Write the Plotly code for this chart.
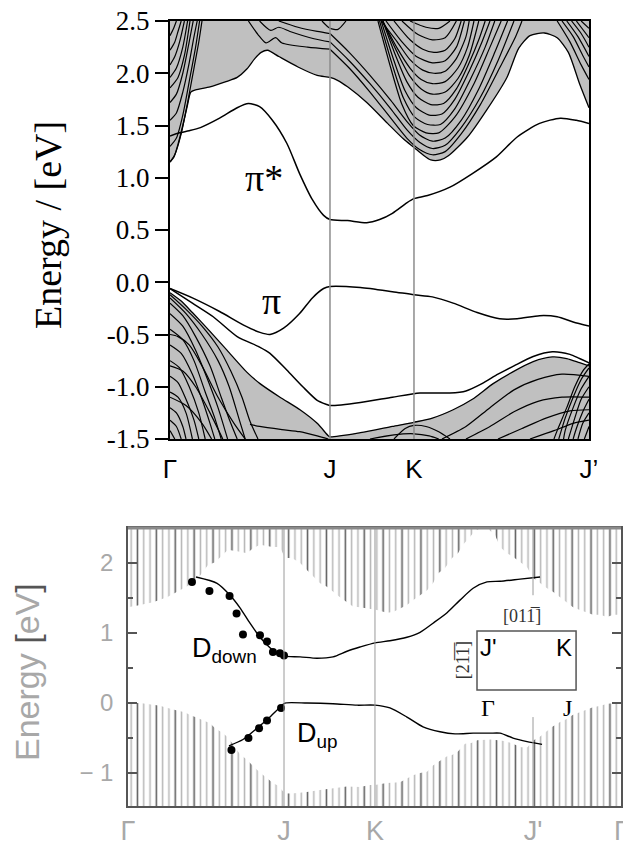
import plotly.graph_objects as go

W, H = 623, 845

# ---------------- upper panel: slab band structure ----------------
TOP_K_POINTS = [0.0, 1.0, 1.525, 2.619]
TOP_K_LABELS = ["Γ", "J", "K", "J’"]
TOP_E_TICKS = [2.5, 2.0, 1.5, 1.0, 0.5, 0.0, -0.5, -1.0, -1.5]
TOP_E_TICK_TEXT = ["2.5", "2.0", "1.5", "1.0", "0.5", "0.0", "-0.5", "-1.0", "-1.5"]
TOP_E_RANGE = [-1.5, 2.5]

# lower edge of the projected conduction continuum (shaded above)
CB_EDGE_K = [0.0, 0.025, 0.05, 0.08, 0.11, 0.13, 0.16, 0.25, 0.35, 0.42, 0.48, 0.53, 0.57, 0.61,
             0.68, 0.8, 0.92, 1.0, 1.05, 1.11, 1.23, 1.36, 1.46, 1.525, 1.58, 1.63, 1.69, 1.74,
             1.86, 1.98, 2.106, 2.18, 2.25, 2.34, 2.42, 2.49, 2.56, 2.619]
CB_EDGE_E = [1.15, 1.2, 1.32, 1.5, 1.7, 1.82, 1.84, 1.87, 1.92, 1.96, 2.04, 2.14, 2.2, 2.22,
             2.16, 2.06, 1.98, 1.96, 1.93, 1.87, 1.72, 1.52, 1.37, 1.29, 1.22, 1.17, 1.17, 1.21,
             1.39, 1.65, 1.96, 2.24, 2.36, 2.385, 2.34, 2.2, 1.9, 1.67]

# upper edge of the projected valence continuum (shaded below)
VB_EDGE_K = [0.0, 0.07, 0.14, 0.25, 0.356, 0.48, 0.5625, 0.6875, 0.8125, 0.92, 0.99, 1.0,
             1.19, 1.39, 1.525, 1.64, 1.77, 1.89, 2.02, 2.14, 2.27, 2.39, 2.48, 2.56, 2.619]
VB_EDGE_E = [-0.1, -0.18, -0.29, -0.47, -0.65, -0.86, -0.97, -1.1, -1.22, -1.35, -1.47, -1.48,
             -1.44, -1.38, -1.34, -1.3, -1.22, -1.12, -0.97, -0.86, -0.76, -0.715, -0.73, -0.77, -0.8]

# surface states
PI_STAR_K = [0.0, 0.06, 0.12, 0.19, 0.31, 0.42, 0.49, 0.56, 0.64, 0.73, 0.81, 0.89, 0.96, 1.0,
             1.11, 1.23, 1.31, 1.39, 1.48, 1.525, 1.61, 1.75, 1.89, 2.04, 2.17, 2.31, 2.44, 2.54, 2.619]
PI_STAR_E = [1.40, 1.43, 1.45, 1.48, 1.57, 1.67, 1.71, 1.68, 1.55, 1.33, 1.04, 0.79, 0.64, 0.6,
             0.59, 0.57, 0.6, 0.66, 0.76, 0.8, 0.83, 0.91, 1.04, 1.2, 1.39, 1.52, 1.57, 1.55, 1.52]
PI_K = [0.0, 0.14, 0.31, 0.46, 0.5625, 0.625, 0.71, 0.81, 0.89, 0.96, 1.0, 1.19, 1.39, 1.525,
        1.64, 1.77, 1.92, 2.06, 2.17, 2.31, 2.42, 2.52, 2.619]
PI_E = [-0.06, -0.15, -0.28, -0.41, -0.48, -0.5, -0.44, -0.3, -0.15, -0.06, -0.04, -0.05, -0.09,
        -0.12, -0.14, -0.2, -0.29, -0.35, -0.35, -0.32, -0.33, -0.38, -0.42]
BACK_K = [0.0, 0.14, 0.27, 0.42, 0.56, 0.625, 0.73, 0.83, 0.92, 0.98, 1.0, 1.19, 1.39, 1.5625,
          1.75, 1.85, 1.95, 2.05, 2.15, 2.27, 2.39, 2.5, 2.56, 2.619]
BACK_E = [-0.06, -0.2, -0.33, -0.52, -0.62, -0.68, -0.84, -1.0, -1.13, -1.17, -1.18, -1.15, -1.1,
          -1.06, -1.06, -1.04, -0.97, -0.88, -0.8, -0.71, -0.665, -0.69, -0.73, -0.77]

# bulk-derived slab bands inside the conduction continuum
CB_LINES = [
    [[0, 1.15], [0.03, 1.22], [0.07, 1.42], [0.11, 1.72], [0.15, 2.05], [0.18, 2.3], [0.2, 2.5]],
    [[0, 1.3], [0.04, 1.38], [0.08, 1.6], [0.12, 1.92], [0.16, 2.25], [0.185, 2.5]],
    [[0, 1.55], [0.04, 1.62], [0.08, 1.82], [0.12, 2.1], [0.15, 2.35], [0.17, 2.5]],
    [[0, 1.72], [0.04, 1.8], [0.08, 2.0], [0.12, 2.3], [0.145, 2.5]],
    [[0, 1.86], [0.05, 1.96], [0.09, 2.17], [0.125, 2.5]],
    [[0, 1.96], [0.04, 2.05], [0.08, 2.25], [0.11, 2.5]],
    [[0, 2.08], [0.03, 2.16], [0.06, 2.3], [0.09, 2.5]],
    [[0, 2.22], [0.03, 2.3], [0.05, 2.4], [0.07, 2.5]],
    [[0, 2.36], [0.02, 2.42], [0.04, 2.5]],
    [[0.49, 2.5], [0.55, 2.37], [0.6, 2.29], [0.66, 2.34], [0.7, 2.29], [0.86, 2.25], [1.0, 2.23]],
    [[0.56, 2.5], [0.63, 2.41], [0.68, 2.44], [0.75, 2.4], [0.9, 2.33], [1.0, 2.3]],
    [[0.68, 2.5], [0.8, 2.44], [0.92, 2.4], [1.0, 2.38]],
    [[0.95, 2.5], [1.0, 2.43], [1.05, 2.42], [1.1, 2.5]],
    [[1.0, 2.23], [1.12, 2.05], [1.25, 1.82], [1.38, 1.57], [1.48, 1.38], [1.56, 1.27], [1.64, 1.22],
     [1.72, 1.25], [1.82, 1.42], [1.94, 1.7], [2.06, 2.05], [2.16, 2.35], [2.2, 2.5]],
    [[1.0, 2.3], [1.12, 2.12], [1.25, 1.9], [1.38, 1.66], [1.48, 1.46], [1.56, 1.34], [1.64, 1.28],
     [1.72, 1.31], [1.82, 1.48], [1.94, 1.77], [2.05, 2.12], [2.15, 2.5]],
    [[1.0, 2.38], [1.12, 2.2], [1.25, 1.98], [1.38, 1.74], [1.48, 1.54], [1.56, 1.41], [1.64, 1.35],
     [1.72, 1.38], [1.82, 1.55], [1.93, 1.85], [2.03, 2.2], [2.11, 2.5]],
    [[1.3, 2.5], [1.38, 2.05], [1.45, 1.7], [1.52, 1.5], [1.6, 1.43], [1.68, 1.43], [1.78, 1.58],
     [1.9, 1.9], [2.0, 2.25], [2.07, 2.5]],
    [[1.31, 2.5], [1.39, 2.08], [1.46, 1.76], [1.53, 1.58], [1.61, 1.51], [1.69, 1.51], [1.78, 1.66],
     [1.88, 1.95], [1.97, 2.25], [2.03, 2.5]],
    [[1.32, 2.5], [1.4, 2.12], [1.47, 1.83], [1.54, 1.67], [1.62, 1.6], [1.7, 1.61], [1.78, 1.75],
     [1.87, 2.02], [1.95, 2.3], [2.0, 2.5]],
    [[1.33, 2.5], [1.41, 2.17], [1.48, 1.92], [1.55, 1.77], [1.63, 1.7], [1.71, 1.71], [1.79, 1.85],
     [1.87, 2.1], [1.93, 2.32], [1.97, 2.5]],
    [[1.33, 2.5], [1.42, 2.2], [1.5, 1.97], [1.57, 1.85], [1.64, 1.8], [1.72, 1.82], [1.8, 1.95],
     [1.87, 2.17], [1.93, 2.5]],
    [[1.33, 2.5], [1.42, 2.24], [1.5, 2.05], [1.57, 1.94], [1.64, 1.9], [1.72, 1.92], [1.8, 2.05],
     [1.86, 2.25], [1.9, 2.5]],
    [[1.32, 2.5], [1.42, 2.3], [1.5, 2.13], [1.58, 2.03], [1.65, 2.0], [1.72, 2.02], [1.79, 2.14],
     [1.85, 2.35], [1.87, 2.5]],
    [[1.35, 2.5], [1.45, 2.3], [1.54, 2.16], [1.64, 2.1], [1.72, 2.12], [1.79, 2.25], [1.84, 2.5]],
    [[1.4, 2.5], [1.5, 2.32], [1.58, 2.23], [1.65, 2.2], [1.72, 2.22], [1.78, 2.33], [1.82, 2.5]],
    [[1.45, 2.5], [1.55, 2.37], [1.64, 2.32], [1.72, 2.34], [1.79, 2.5]],
    [[1.5, 2.5], [1.6, 2.44], [1.68, 2.43], [1.75, 2.5]],
    [[2.42, 2.5], [2.5, 2.3], [2.57, 2.08], [2.619, 1.94]],
    [[2.45, 2.5], [2.52, 2.35], [2.58, 2.17], [2.619, 2.06]],
    [[2.48, 2.5], [2.55, 2.35], [2.619, 2.16]],
    [[2.51, 2.5], [2.57, 2.38], [2.619, 2.25]],
    [[2.54, 2.5], [2.619, 2.34]],
    [[2.57, 2.5], [2.619, 2.43]],
]

# bulk-derived slab bands inside the valence continuum
VB_LINES = [
    [[0, -0.12], [0.1, -0.26], [0.2, -0.42], [0.3, -0.62], [0.38, -0.85], [0.45, -1.1], [0.5, -1.33], [0.55, -1.5]],
    [[0, -0.15], [0.1, -0.3], [0.2, -0.5], [0.3, -0.75], [0.37, -1.0], [0.43, -1.3], [0.47, -1.5]],
    [[0, -0.2], [0.08, -0.32], [0.16, -0.52], [0.25, -0.8], [0.32, -1.1], [0.38, -1.35], [0.42, -1.5]],
    [[0, -0.3], [0.08, -0.42], [0.16, -0.65], [0.24, -0.95], [0.3, -1.2], [0.36, -1.5]],
    [[0, -0.45], [0.08, -0.55], [0.15, -0.75], [0.22, -1.05], [0.28, -1.3], [0.32, -1.5]],
    [[0, -0.6], [0.07, -0.68], [0.14, -0.88], [0.2, -1.12], [0.25, -1.35], [0.28, -1.5]],
    [[0, -0.75], [0.06, -0.82], [0.12, -1.0], [0.18, -1.25], [0.22, -1.5]],
    [[0, -0.9], [0.05, -0.96], [0.1, -1.12], [0.15, -1.32], [0.18, -1.5]],
    [[0, -1.05], [0.05, -1.1], [0.1, -1.25], [0.14, -1.5]],
    [[0, -1.2], [0.04, -1.25], [0.08, -1.38], [0.1, -1.5]],
    [[0, -1.32], [0.04, -1.38], [0.07, -1.5]],
    [[0, -1.42], [0.03, -1.5]],
    [[0, -0.5], [0.05, -0.52], [0.12, -0.6], [0.2, -0.8], [0.3, -1.1], [0.4, -1.35], [0.47, -1.5]],
    [[0, -0.8], [0.08, -0.85], [0.16, -1.0], [0.25, -1.25], [0.33, -1.5]],
    [[0, -1.1], [0.1, -1.18], [0.2, -1.35], [0.26, -1.5]],
    [[0.5, -1.36], [0.56, -1.38], [0.7, -1.41], [0.81, -1.43], [0.92, -1.47], [0.99, -1.5]],
    [[1.4, -1.5], [1.47, -1.4], [1.525, -1.37], [1.6, -1.38], [1.68, -1.43], [1.75, -1.5]],
    [[1.25, -1.5], [1.4, -1.46], [1.525, -1.45], [1.62, -1.47], [1.68, -1.5]],
    [[1.7, -1.5], [1.85, -1.38], [2.0, -1.2], [2.15, -1.03], [2.3, -0.93], [2.45, -0.88], [2.619, -0.9]],
    [[1.85, -1.5], [2.0, -1.38], [2.15, -1.24], [2.3, -1.14], [2.45, -1.1], [2.619, -1.1]],
    [[2.05, -1.5], [2.2, -1.4], [2.35, -1.3], [2.5, -1.23], [2.619, -1.22]],
    [[2.25, -1.5], [2.4, -1.42], [2.52, -1.35], [2.619, -1.32]],
    [[2.619, -0.78], [2.58, -0.85], [2.53, -1.0], [2.48, -1.2], [2.42, -1.42], [2.4, -1.5]],
    [[2.619, -0.82], [2.57, -0.93], [2.52, -1.1], [2.47, -1.3], [2.43, -1.5]],
    [[2.619, -0.9], [2.57, -1.02], [2.52, -1.2], [2.47, -1.42], [2.46, -1.5]],
    [[2.619, -1.0], [2.57, -1.12], [2.53, -1.3], [2.49, -1.5]],
    [[2.619, -1.12], [2.58, -1.24], [2.54, -1.4], [2.52, -1.5]],
    [[2.619, -1.25], [2.58, -1.35], [2.55, -1.5]],
    [[2.619, -1.38], [2.59, -1.5]],
]

# ---------------- lower panel: model bands with ARPES points ----------------
BOT_K_POINTS = [0.0, 1.0, 1.583, 2.596, 3.16]
BOT_K_LABELS = ["Γ", "J", "K", "J'", "Γ"]
BOT_E_TICKS = [2, 1, 0, -1]
BOT_E_TICK_TEXT = ["2", "1", "0", "− 1"]
BOT_E_RANGE = [-1.47, 2.5]
BOT_K_RANGE = [0.0, 3.16]

# projected bulk bands: lower edge of the upper block, upper edge of the lower block
BULK_UP_K = [0.0, 0.077, 0.16, 0.25, 0.32, 0.397, 0.442, 0.513, 0.558, 0.603, 0.641, 0.718, 0.763,
             0.801, 0.846, 0.929, 0.974, 1.006, 1.051, 1.103, 1.147, 1.186, 1.231, 1.276, 1.314,
             1.359, 1.404, 1.442, 1.487, 1.551, 1.596, 1.66, 1.699, 1.744, 1.788, 1.827, 1.872,
             1.917, 1.955, 1.987, 2.032, 2.077, 2.115, 2.147, 2.192, 2.23, 2.3, 2.33, 2.353, 2.385,
             2.429, 2.468, 2.513, 2.558, 2.596, 2.641, 2.686, 2.724, 2.769, 2.814, 2.853, 2.897,
             2.942, 2.981, 3.026, 3.071, 3.109, 3.16]
BULK_UP_E = [1.37, 1.40, 1.44, 1.51, 1.59, 1.69, 1.76, 1.97, 2.01, 2.11, 2.19, 2.16, 2.14,
             2.21, 2.26, 2.23, 2.23, 2.07, 2.07, 2.0, 1.9, 1.8, 1.71, 1.66, 1.59,
             1.51, 1.44, 1.38, 1.37, 1.35, 1.33, 1.29, 1.3, 1.35, 1.4, 1.47, 1.54,
             1.61, 1.71, 1.85, 1.93, 2.07, 2.14, 2.26, 2.37, 2.48, 2.5, 2.45, 2.4, 2.23,
             2.14, 2.09, 2.01, 1.94, 1.79, 1.71, 1.64, 1.59, 1.51, 1.43, 1.37, 1.33,
             1.29, 1.26, 1.26, 1.23, 1.26, 1.26]
BULK_LO_K = [0.0, 0.077, 0.12, 0.16, 0.205, 0.237, 0.282, 0.32, 0.365, 0.397, 0.442, 0.481, 0.526,
             0.558, 0.603, 0.641, 0.686, 0.718, 0.763, 0.801, 0.846, 0.891, 0.929, 0.962, 1.006,
             1.051, 1.103, 1.147, 1.231, 1.314, 1.404, 1.487, 1.551, 1.583, 1.66, 1.744, 1.788,
             1.827, 1.872, 1.917, 1.955, 2.0, 2.045, 2.077, 2.115, 2.16, 2.2, 2.24, 2.285, 2.33,
             2.37, 2.41, 2.455, 2.49, 2.52, 2.56, 2.6, 2.64, 2.68, 2.72, 2.77, 2.81, 2.85, 2.9,
             2.94, 2.98, 3.03, 3.07, 3.16]
BULK_LO_E = [0.0, 0.0, -0.01, -0.03, -0.04, -0.06, -0.09, -0.11, -0.13, -0.17, -0.21, -0.25, -0.29,
             -0.36, -0.42, -0.49, -0.64, -0.73, -0.81, -0.9, -0.99, -1.07, -1.14, -1.18, -1.29,
             -1.29, -1.28, -1.27, -1.24, -1.22, -1.19, -1.2, -1.17, -1.17, -1.14, -1.13, -1.08,
             -1.03, -1.0, -0.98, -0.89, -0.82, -0.76, -0.74, -0.69, -0.58, -0.57, -0.53, -0.52, -0.52,
             -0.53, -0.54, -0.57, -0.6, -0.63, -0.63, -0.53, -0.48, -0.41, -0.34, -0.27, -0.23, -0.17, -0.13,
             -0.09, -0.06, -0.04, -0.01, 0.0]

D_DOWN_K = [0.436, 0.571, 0.654, 0.718, 0.782, 0.846, 0.91, 0.955, 1.0, 1.103, 1.212, 1.314, 1.404,
            1.487, 1.583, 1.679, 1.788, 1.872, 1.955, 2.045, 2.128, 2.212, 2.301, 2.385, 2.513, 2.641]
D_DOWN_E = [1.8, 1.71, 1.54, 1.36, 1.14, 0.94, 0.79, 0.71, 0.67, 0.66, 0.64, 0.66, 0.74,
            0.8, 0.86, 0.89, 0.94, 1.01, 1.14, 1.29, 1.47, 1.64, 1.73, 1.74, 1.77, 1.8]
D_UP_K = [0.647, 0.737, 0.827, 0.91, 0.974, 1.006, 1.147, 1.314, 1.468, 1.583, 1.679, 1.788, 1.891,
          2.0, 2.096, 2.212, 2.32, 2.385, 2.468, 2.558, 2.654]
D_UP_E = [-0.61, -0.52, -0.36, -0.2, -0.06, 0.0, 0.0, -0.01, -0.03, -0.03, -0.07, -0.2, -0.34,
          -0.41, -0.44, -0.43, -0.43, -0.43, -0.5, -0.55, -0.59]

# measured points
EXP_DOWN_K = [0.41, 0.522, 0.651, 0.696, 0.737, 0.846, 0.891, 0.929, 0.974, 1.0]
EXP_DOWN_E = [1.73, 1.6, 1.53, 1.28, 0.98, 0.97, 0.88, 0.73, 0.71, 0.68]
EXP_UP_K = [0.663, 0.772, 0.84, 0.891, 0.981]
EXP_UP_E = [-0.67, -0.5, -0.36, -0.25, -0.07]

# surface Brillouin zone sketch (lower panel data units)
SBZ_K = [2.237, 2.872]
SBZ_E = [0.186, 1.03]

SERIF = "Liberation Serif"
SANS = "Liberation Sans"
GREY_TXT = "#a8a8a8"

fig = go.Figure()


def add_line(pts, xa, ya, width=1.3, color="black"):
    fig.add_trace(go.Scatter(
        x=[p[0] for p in pts], y=[p[1] for p in pts], mode="lines",
        line=dict(color=color, width=width, shape="spline", smoothing=0.7),
        xaxis=xa, yaxis=ya, hoverinfo="skip", showlegend=False))


# shaded continua in the upper panel
kmax = TOP_K_POINTS[-1]
fig.add_trace(go.Scatter(
    x=[0.0] + CB_EDGE_K + [kmax, 0.0], y=[TOP_E_RANGE[1]] + CB_EDGE_E + [TOP_E_RANGE[1]] * 2,
    fill="toself", fillcolor="#c0c0c0", line=dict(width=0), mode="lines",
    xaxis="x", yaxis="y", hoverinfo="skip", showlegend=False))
fig.add_trace(go.Scatter(
    x=[0.0] + VB_EDGE_K + [kmax, 0.0], y=[TOP_E_RANGE[0]] + VB_EDGE_E + [TOP_E_RANGE[0]] * 2,
    fill="toself", fillcolor="#c0c0c0", line=dict(width=0), mode="lines",
    xaxis="x", yaxis="y", hoverinfo="skip", showlegend=False))

for band in CB_LINES + VB_LINES:
    add_line(band, "x", "y", width=1.2)
add_line(list(zip(CB_EDGE_K, CB_EDGE_E)), "x", "y", width=1.3)
add_line(list(zip(VB_EDGE_K, VB_EDGE_E)), "x", "y", width=1.3)
for ks, es in [(PI_STAR_K, PI_STAR_E), (PI_K, PI_E), (BACK_K, BACK_E)]:
    add_line(list(zip(ks, es)), "x", "y", width=1.5)

# hatched bulk projection in the lower panel (grey hatch with every third stroke dark)
kb = BOT_K_RANGE[1]
for pat_size, pat_col, sol in [(6.3, "#6e6e6e", 0.24), (18.9, "#111111", 0.08)]:
    fig.add_trace(go.Scatter(
        x=[0.0] + BULK_UP_K + [kb, 0.0], y=[BOT_E_RANGE[1]] + BULK_UP_E + [BOT_E_RANGE[1]] * 2,
        fill="toself", fillcolor="rgba(0,0,0,0)", line=dict(width=0), mode="lines",
        fillpattern=dict(shape="|", size=pat_size, solidity=sol, fgcolor=pat_col,
                         bgcolor="rgba(0,0,0,0)", fillmode="overlay"),
        xaxis="x2", yaxis="y2", hoverinfo="skip", showlegend=False))
    fig.add_trace(go.Scatter(
        x=[0.0] + BULK_LO_K + [kb, 0.0], y=[BOT_E_RANGE[0]] + BULK_LO_E + [BOT_E_RANGE[0]] * 2,
        fill="toself", fillcolor="rgba(0,0,0,0)", line=dict(width=0), mode="lines",
        fillpattern=dict(shape="|", size=pat_size, solidity=sol, fgcolor=pat_col,
                         bgcolor="rgba(0,0,0,0)", fillmode="overlay"),
        xaxis="x2", yaxis="y2", hoverinfo="skip", showlegend=False))

add_line(list(zip(D_DOWN_K, D_DOWN_E)), "x2", "y2", width=1.4)
add_line(list(zip(D_UP_K, D_UP_E)), "x2", "y2", width=1.4)
for ks, es in [(EXP_DOWN_K, EXP_DOWN_E), (EXP_UP_K, EXP_UP_E)]:
    fig.add_trace(go.Scatter(x=ks, y=es, mode="markers", marker=dict(color="black", size=8),
                             xaxis="x2", yaxis="y2", hoverinfo="skip", showlegend=False))

shapes = []
# high-symmetry guides
for kx in TOP_K_POINTS[1:3]:
    shapes.append(dict(type="line", xref="x", yref="y", x0=kx, x1=kx,
                       y0=TOP_E_RANGE[0], y1=TOP_E_RANGE[1], line=dict(color="#8c8c8c", width=1.5),
                       layer="above"))
for kx in BOT_K_POINTS[1:3]:
    shapes.append(dict(type="line", xref="x2", yref="y2", x0=kx, x1=kx,
                       y0=BOT_E_RANGE[0], y1=BOT_E_RANGE[1], line=dict(color="#9a9a9a", width=1),
                       layer="above"))
kjp = BOT_K_POINTS[3]
for y0, y1 in [(1.54, BOT_E_RANGE[1]), (BOT_E_RANGE[0], -0.2)]:
    shapes.append(dict(type="line", xref="x2", yref="y2", x0=kjp, x1=kjp, y0=y0, y1=y1,
                       line=dict(color="#9a9a9a", width=1), layer="above"))
# heavier top rule of the lower frame
shapes.append(dict(type="line", xref="x2 domain", yref="y2 domain", x0=0, x1=1, y0=1, y1=1,
                   line=dict(color="#8a8a8a", width=3), layer="above"))
# surface zone sketch
shapes.append(dict(type="rect", xref="x2", yref="y2", x0=SBZ_K[0], x1=SBZ_K[1],
                   y0=SBZ_E[0], y1=SBZ_E[1], line=dict(color="#555555", width=1.5),
                   fillcolor="rgba(0,0,0,0)", layer="above"))

annotations = [
    dict(text="Energy / [eV]", xref="paper", yref="paper", x=48 / W, y=1 - 225 / H,
         xanchor="center", yanchor="middle",
         textangle=-90, showarrow=False, font=dict(family=SERIF, size=38, color="black")),
    dict(text="π*", xref="x", yref="y", x=0.59, y=1.0, showarrow=False,
         font=dict(family=SERIF, size=38, color="black")),
    dict(text="π", xref="x", yref="y", x=0.6375, y=-0.18, showarrow=False,
         font=dict(family=SERIF, size=38, color="black")),
    dict(text="Energy <span style='color:#555'>[</span>eV<span style='color:#555'>]</span>",
         xref="paper", yref="paper", x=27 / W, y=1 - 672 / H, xanchor="center", yanchor="middle",
         textangle=-90, showarrow=False, font=dict(family=SANS, size=34, color=GREY_TXT)),
    dict(text="D<sub>down</sub>", xref="x2", yref="y2", x=0.397, y=0.76, xanchor="left",
         showarrow=False, font=dict(family=SANS, size=27, color="black")),
    dict(text="D<sub>up</sub>", xref="x2", yref="y2", x=1.07, y=-0.46, xanchor="left",
         showarrow=False, font=dict(family=SANS, size=27, color="black")),
    dict(text="J'", xref="x2", yref="y2", x=2.308, y=0.8, showarrow=False,
         font=dict(family=SANS, size=24, color="black")),
    dict(text="K", xref="x2", yref="y2", x=2.795, y=0.8, showarrow=False,
         font=dict(family=SANS, size=24, color="black")),
    dict(text="Γ", xref="x2", yref="y2", x=2.308, y=-0.07, showarrow=False,
         font=dict(family=SERIF, size=24, color="black")),
    dict(text="J", xref="x2", yref="y2", x=2.814, y=-0.07, showarrow=False,
         font=dict(family=SERIF, size=24, color="black")),
    dict(text="[011\u0305]", xref="x2", yref="y2", x=2.526, y=1.24, showarrow=False,
         font=dict(family=SERIF, size=18, color="#333")),
    dict(text="[21\u03051\u0305]", xref="x2", yref="y2", x=2.147, y=0.61, textangle=-90,
         showarrow=False, font=dict(family=SERIF, size=18, color="#333")),
    # closing Γ of the path sits on the right frame edge
    dict(text=BOT_K_LABELS[-1], xref="x2", yref="paper", x=BOT_K_POINTS[-1], y=1 - 831 / H,
         xanchor="center", yanchor="middle", showarrow=False,
         font=dict(family=SANS, size=27, color=GREY_TXT)),
]

fig.update_layout(
    template="none",
    width=W, height=H, margin=dict(l=0, r=0, t=0, b=0, autoexpand=False),
    paper_bgcolor="white", plot_bgcolor="white", showlegend=False,
    shapes=shapes, annotations=annotations,
    xaxis=dict(domain=[170 / W, 589 / W], anchor="y", range=[0, kmax], automargin=False,
               tickvals=TOP_K_POINTS, ticktext=TOP_K_LABELS, ticks="outside", ticklen=6,
               tickcolor="rgba(0,0,0,0)", showgrid=False, zeroline=False,
               showline=True, mirror=True, linecolor="black", linewidth=2,
               tickfont=dict(family=SANS, size=26, color="black")),
    yaxis=dict(domain=[1 - 439 / H, 1 - 21 / H], anchor="x", range=TOP_E_RANGE, automargin=False,
               tickvals=TOP_E_TICKS, ticktext=TOP_E_TICK_TEXT, ticks="outside", ticklen=13,
               tickwidth=2, tickcolor="black", showgrid=False, zeroline=False,
               showline=True, mirror=True, linecolor="black", linewidth=2,
               tickfont=dict(family=SERIF, size=27, color="black")),
    xaxis2=dict(domain=[128 / W, 621 / W], anchor="y2", range=BOT_K_RANGE, automargin=False,
                tickvals=BOT_K_POINTS[:-1], ticktext=BOT_K_LABELS[:-1], ticks="",
                showgrid=False, zeroline=False,
                showline=True, mirror=True, linecolor="#555555", linewidth=1.5,
                tickfont=dict(family=SANS, size=27, color=GREY_TXT)),
    yaxis2=dict(domain=[1 - 806 / H, 1 - 528 / H], anchor="x2", range=BOT_E_RANGE, automargin=False,
                tickvals=BOT_E_TICKS, ticktext=BOT_E_TICK_TEXT, ticks="inside", ticklen=9,
                tickwidth=1.5, tickcolor="#555555", showgrid=False, zeroline=False,
                showline=True, mirror="ticks", linecolor="#555555", linewidth=1.5,
                minor=dict(ticks="inside", ticklen=5, tickwidth=1.5, tickcolor="#555555",
                           tickvals=[-0.5, 0.5, 1.5]),
                ticklabelstandoff=8,
                tickfont=dict(family=SANS, size=24, color=GREY_TXT)),
)

fig.write_html("out.html")
